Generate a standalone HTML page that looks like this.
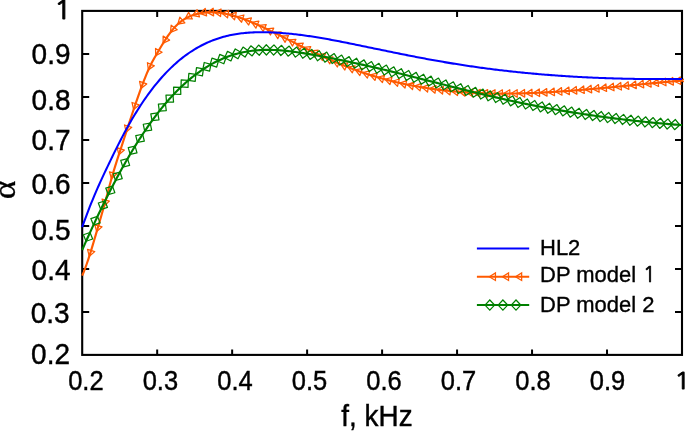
<!DOCTYPE html>
<html><head><meta charset="utf-8"><title>plot</title>
<style>html,body{margin:0;padding:0;background:#fff;overflow:hidden}body{width:685px;height:431px;position:relative}</style></head>
<body>
<svg width="685" height="431" viewBox="0 0 685 431" style="position:absolute;left:0;top:0">
<defs><clipPath id="cp"><rect x="0" y="0" width="683.9" height="431"/></clipPath></defs>
<rect width="685" height="431" fill="#fff"/>
<rect x="82.2" y="10.9" width="599.8" height="344.0" fill="none" stroke="#000" stroke-width="2.1"/>
<path d="M157.18,354.9 v-5.3 M157.18,10.9 v6.0 M82.2,311.90 h7 M682.0,311.90 h-7 M232.15,354.9 v-5.3 M232.15,10.9 v6.0 M82.2,268.90 h7 M682.0,268.90 h-7 M307.12,354.9 v-5.3 M307.12,10.9 v6.0 M82.2,225.90 h7 M682.0,225.90 h-7 M382.10,354.9 v-5.3 M382.10,10.9 v6.0 M82.2,182.90 h7 M682.0,182.90 h-7 M457.07,354.9 v-5.3 M457.07,10.9 v6.0 M82.2,139.90 h7 M682.0,139.90 h-7 M532.05,354.9 v-5.3 M532.05,10.9 v6.0 M82.2,96.90 h7 M682.0,96.90 h-7 M607.02,354.9 v-5.3 M607.02,10.9 v6.0 M82.2,53.90 h7 M682.0,53.90 h-7" stroke="#000" stroke-width="2" fill="none"/>
<g fill="none" stroke-linejoin="round" clip-path="url(#cp)">
<path d="M82.20,275.64 L83.70,272.08 L85.21,268.19 L86.71,264.01 L88.21,259.58 L89.72,254.93 L91.22,250.10 L92.72,245.13 L94.23,240.06 L95.73,234.92 L97.23,229.76 L98.74,224.60 L100.24,219.44 L101.74,214.24 L103.25,208.96 L104.75,203.59 L106.25,198.07 L107.76,192.45 L109.26,186.82 L110.76,181.27 L112.27,175.89 L113.77,170.75 L115.27,165.83 L116.77,161.08 L118.28,156.43 L119.78,151.85 L121.28,147.26 L122.79,142.64 L124.29,138.01 L125.79,133.37 L127.30,128.74 L128.80,124.12 L130.30,119.53 L131.81,114.98 L133.31,110.47 L134.81,106.02 L136.32,101.62 L137.82,97.30 L139.32,93.06 L140.83,88.91 L142.33,84.86 L143.83,80.91 L145.34,77.09 L146.84,73.43 L148.34,69.95 L149.85,66.68 L151.35,63.62 L152.85,60.76 L154.36,58.03 L155.86,55.41 L157.36,52.85 L158.87,50.31 L160.37,47.79 L161.87,45.30 L163.38,42.86 L164.88,40.48 L166.38,38.16 L167.89,35.93 L169.39,33.80 L170.89,31.78 L172.40,29.88 L173.90,28.11 L175.40,26.48 L176.91,24.97 L178.41,23.58 L179.91,22.31 L181.42,21.14 L182.92,20.08 L184.42,19.11 L185.92,18.23 L187.43,17.44 L188.93,16.73 L190.43,16.08 L191.94,15.51 L193.44,14.99 L194.94,14.53 L196.45,14.12 L197.95,13.75 L199.45,13.43 L200.96,13.15 L202.46,12.91 L203.96,12.71 L205.47,12.55 L206.97,12.43 L208.47,12.34 L209.98,12.30 L211.48,12.29 L212.98,12.31 L214.49,12.37 L215.99,12.46 L217.49,12.59 L219.00,12.75 L220.50,12.94 L222.00,13.15 L223.51,13.40 L225.01,13.68 L226.51,13.98 L228.02,14.31 L229.52,14.66 L231.02,15.04 L232.53,15.44 L234.03,15.87 L235.53,16.31 L237.04,16.78 L238.54,17.27 L240.04,17.78 L241.55,18.30 L243.05,18.84 L244.55,19.40 L246.06,19.98 L247.56,20.57 L249.06,21.17 L250.56,21.79 L252.07,22.41 L253.57,23.05 L255.07,23.70 L256.58,24.36 L258.08,25.03 L259.58,25.71 L261.09,26.39 L262.59,27.08 L264.09,27.78 L265.60,28.48 L267.10,29.20 L268.60,29.91 L270.11,30.64 L271.61,31.36 L273.11,32.10 L274.62,32.84 L276.12,33.58 L277.62,34.32 L279.13,35.07 L280.63,35.82 L282.13,36.58 L283.64,37.33 L285.14,38.09 L286.64,38.85 L288.15,39.61 L289.65,40.37 L291.15,41.13 L292.66,41.89 L294.16,42.65 L295.66,43.41 L297.17,44.17 L298.67,44.92 L300.17,45.67 L301.68,46.43 L303.18,47.17 L304.68,47.92 L306.19,48.66 L307.69,49.39 L309.19,50.13 L310.70,50.85 L312.20,51.58 L313.70,52.29 L315.21,53.00 L316.71,53.71 L318.21,54.41 L319.71,55.11 L321.22,55.80 L322.72,56.49 L324.22,57.16 L325.73,57.84 L327.23,58.51 L328.73,59.17 L330.24,59.83 L331.74,60.48 L333.24,61.12 L334.75,61.76 L336.25,62.40 L337.75,63.03 L339.26,63.65 L340.76,64.26 L342.26,64.87 L343.77,65.47 L345.27,66.07 L346.77,66.66 L348.28,67.24 L349.78,67.82 L351.28,68.39 L352.79,68.95 L354.29,69.51 L355.79,70.06 L357.30,70.60 L358.80,71.14 L360.30,71.67 L361.81,72.19 L363.31,72.71 L364.81,73.21 L366.32,73.72 L367.82,74.21 L369.32,74.69 L370.83,75.17 L372.33,75.64 L373.83,76.11 L375.34,76.56 L376.84,77.01 L378.34,77.45 L379.85,77.89 L381.35,78.32 L382.85,78.74 L384.35,79.15 L385.86,79.56 L387.36,79.95 L388.86,80.35 L390.37,80.73 L391.87,81.11 L393.37,81.48 L394.88,81.85 L396.38,82.21 L397.88,82.56 L399.39,82.90 L400.89,83.24 L402.39,83.57 L403.90,83.90 L405.40,84.22 L406.90,84.53 L408.41,84.84 L409.91,85.14 L411.41,85.43 L412.92,85.72 L414.42,86.00 L415.92,86.28 L417.43,86.55 L418.93,86.81 L420.43,87.07 L421.94,87.32 L423.44,87.57 L424.94,87.81 L426.45,88.05 L427.95,88.28 L429.45,88.50 L430.96,88.72 L432.46,88.93 L433.96,89.14 L435.47,89.34 L436.97,89.54 L438.47,89.73 L439.98,89.92 L441.48,90.10 L442.98,90.27 L444.49,90.45 L445.99,90.61 L447.49,90.77 L448.99,90.93 L450.50,91.08 L452.00,91.23 L453.50,91.37 L455.01,91.50 L456.51,91.64 L458.01,91.76 L459.52,91.88 L461.02,92.00 L462.52,92.12 L464.03,92.22 L465.53,92.33 L467.03,92.43 L468.54,92.52 L470.04,92.61 L471.54,92.70 L473.05,92.78 L474.55,92.86 L476.05,92.93 L477.56,93.00 L479.06,93.07 L480.56,93.13 L482.07,93.18 L483.57,93.24 L485.07,93.28 L486.58,93.33 L488.08,93.37 L489.58,93.41 L491.09,93.44 L492.59,93.47 L494.09,93.49 L495.60,93.52 L497.10,93.53 L498.60,93.55 L500.11,93.56 L501.61,93.57 L503.11,93.57 L504.62,93.57 L506.12,93.57 L507.62,93.56 L509.13,93.55 L510.63,93.54 L512.13,93.52 L513.64,93.50 L515.14,93.48 L516.64,93.45 L518.14,93.42 L519.65,93.39 L521.15,93.36 L522.65,93.32 L524.16,93.28 L525.66,93.23 L527.16,93.18 L528.67,93.13 L530.17,93.08 L531.67,93.03 L533.18,92.97 L534.68,92.91 L536.18,92.84 L537.69,92.78 L539.19,92.71 L540.69,92.64 L542.20,92.57 L543.70,92.49 L545.20,92.41 L546.71,92.33 L548.21,92.25 L549.71,92.16 L551.22,92.07 L552.72,91.99 L554.22,91.89 L555.73,91.80 L557.23,91.70 L558.73,91.61 L560.24,91.51 L561.74,91.40 L563.24,91.30 L564.75,91.19 L566.25,91.09 L567.75,90.98 L569.26,90.87 L570.76,90.75 L572.26,90.64 L573.77,90.52 L575.27,90.41 L576.77,90.29 L578.28,90.17 L579.78,90.04 L581.28,89.92 L582.78,89.80 L584.29,89.67 L585.79,89.54 L587.29,89.41 L588.80,89.28 L590.30,89.15 L591.80,89.02 L593.31,88.89 L594.81,88.75 L596.31,88.62 L597.82,88.48 L599.32,88.35 L600.82,88.21 L602.33,88.07 L603.83,87.93 L605.33,87.79 L606.84,87.65 L608.34,87.50 L609.84,87.36 L611.35,87.22 L612.85,87.08 L614.35,86.93 L615.86,86.79 L617.36,86.64 L618.86,86.50 L620.37,86.35 L621.87,86.20 L623.37,86.06 L624.88,85.91 L626.38,85.76 L627.88,85.62 L629.39,85.47 L630.89,85.32 L632.39,85.18 L633.90,85.03 L635.40,84.88 L636.90,84.73 L638.41,84.59 L639.91,84.44 L641.41,84.29 L642.92,84.15 L644.42,84.00 L645.92,83.85 L647.43,83.71 L648.93,83.56 L650.43,83.42 L651.93,83.28 L653.44,83.13 L654.94,82.99 L656.44,82.85 L657.95,82.71 L659.45,82.56 L660.95,82.42 L662.46,82.28 L663.96,82.15 L665.46,82.01 L666.97,81.87 L668.47,81.74 L669.97,81.60 L671.48,81.47 L672.98,81.33 L674.48,81.20 L675.99,81.07 L677.49,80.94 L678.99,80.81 L680.50,80.69 L682.00,80.56" stroke="#ff5a00" stroke-width="2.15"/>
<path d="M-0.5,0 L5.65,-3.8 L5.65,3.8 Z" transform="translate(89.43,255.83) rotate(-72.3)" fill="none" stroke="#ff5a00" stroke-width="1.25"/>
<path d="M-0.5,0 L5.65,-3.8 L5.65,3.8 Z" transform="translate(96.82,231.17) rotate(-73.8)" fill="none" stroke="#ff5a00" stroke-width="1.25"/>
<path d="M-0.5,0 L5.65,-3.8 L5.65,3.8 Z" transform="translate(104.21,205.52) rotate(-74.4)" fill="none" stroke="#ff5a00" stroke-width="1.25"/>
<path d="M-0.5,0 L5.65,-3.8 L5.65,3.8 Z" transform="translate(111.61,178.22) rotate(-74.4)" fill="none" stroke="#ff5a00" stroke-width="1.25"/>
<path d="M-0.5,0 L5.65,-3.8 L5.65,3.8 Z" transform="translate(119.00,154.23) rotate(-71.9)" fill="none" stroke="#ff5a00" stroke-width="1.25"/>
<path d="M-0.5,0 L5.65,-3.8 L5.65,3.8 Z" transform="translate(126.39,131.52) rotate(-72.0)" fill="none" stroke="#ff5a00" stroke-width="1.25"/>
<path d="M-0.5,0 L5.65,-3.8 L5.65,3.8 Z" transform="translate(133.79,109.05) rotate(-71.4)" fill="none" stroke="#ff5a00" stroke-width="1.25"/>
<path d="M-0.5,0 L5.65,-3.8 L5.65,3.8 Z" transform="translate(141.18,87.94) rotate(-69.8)" fill="none" stroke="#ff5a00" stroke-width="1.25"/>
<path d="M-0.5,0 L5.65,-3.8 L5.65,3.8 Z" transform="translate(148.58,69.42) rotate(-65.8)" fill="none" stroke="#ff5a00" stroke-width="1.25"/>
<path d="M-0.5,0 L5.65,-3.8 L5.65,3.8 Z" transform="translate(155.98,55.21) rotate(-59.8)" fill="none" stroke="#ff5a00" stroke-width="1.25"/>
<path d="M-0.5,0 L5.65,-3.8 L5.65,3.8 Z" transform="translate(163.37,42.87) rotate(-58.1)" fill="none" stroke="#ff5a00" stroke-width="1.25"/>
<path d="M-0.5,0 L5.65,-3.8 L5.65,3.8 Z" transform="translate(170.77,31.94) rotate(-52.7)" fill="none" stroke="#ff5a00" stroke-width="1.25"/>
<path d="M-0.5,0 L5.65,-3.8 L5.65,3.8 Z" transform="translate(178.17,23.80) rotate(-41.9)" fill="none" stroke="#ff5a00" stroke-width="1.25"/>
<path d="M-0.5,0 L5.65,-3.8 L5.65,3.8 Z" transform="translate(185.57,18.43) rotate(-29.6)" fill="none" stroke="#ff5a00" stroke-width="1.25"/>
<path d="M-0.5,0 L5.65,-3.8 L5.65,3.8 Z" transform="translate(192.96,15.15) rotate(-18.5)" fill="none" stroke="#ff5a00" stroke-width="1.25"/>
<path d="M-0.5,0 L5.65,-3.8 L5.65,3.8 Z" transform="translate(200.36,13.25) rotate(-10.5)" fill="none" stroke="#ff5a00" stroke-width="1.25"/>
<path d="M-0.5,0 L5.65,-3.8 L5.65,3.8 Z" transform="translate(207.76,12.38) rotate(-3.1)" fill="none" stroke="#ff5a00" stroke-width="1.25"/>
<path d="M-0.5,0 L5.65,-3.8 L5.65,3.8 Z" transform="translate(215.16,12.41) rotate(3.5)" fill="none" stroke="#ff5a00" stroke-width="1.25"/>
<path d="M-0.5,0 L5.65,-3.8 L5.65,3.8 Z" transform="translate(222.56,13.24) rotate(9.2)" fill="none" stroke="#ff5a00" stroke-width="1.25"/>
<path d="M-0.5,0 L5.65,-3.8 L5.65,3.8 Z" transform="translate(229.96,14.77) rotate(14.0)" fill="none" stroke="#ff5a00" stroke-width="1.25"/>
<path d="M-0.5,0 L5.65,-3.8 L5.65,3.8 Z" transform="translate(237.37,16.89) rotate(17.8)" fill="none" stroke="#ff5a00" stroke-width="1.25"/>
<path d="M-0.5,0 L5.65,-3.8 L5.65,3.8 Z" transform="translate(244.77,19.48) rotate(20.7)" fill="none" stroke="#ff5a00" stroke-width="1.25"/>
<path d="M-0.5,0 L5.65,-3.8 L5.65,3.8 Z" transform="translate(252.17,22.46) rotate(22.9)" fill="none" stroke="#ff5a00" stroke-width="1.25"/>
<path d="M-0.5,0 L5.65,-3.8 L5.65,3.8 Z" transform="translate(259.57,25.70) rotate(24.3)" fill="none" stroke="#ff5a00" stroke-width="1.25"/>
<path d="M-0.5,0 L5.65,-3.8 L5.65,3.8 Z" transform="translate(266.98,29.14) rotate(25.4)" fill="none" stroke="#ff5a00" stroke-width="1.25"/>
<path d="M-0.5,0 L5.65,-3.8 L5.65,3.8 Z" transform="translate(274.38,32.72) rotate(26.2)" fill="none" stroke="#ff5a00" stroke-width="1.25"/>
<path d="M-0.5,0 L5.65,-3.8 L5.65,3.8 Z" transform="translate(281.78,36.40) rotate(26.7)" fill="none" stroke="#ff5a00" stroke-width="1.25"/>
<path d="M-0.5,0 L5.65,-3.8 L5.65,3.8 Z" transform="translate(289.19,40.14) rotate(26.8)" fill="none" stroke="#ff5a00" stroke-width="1.25"/>
<path d="M-0.5,0 L5.65,-3.8 L5.65,3.8 Z" transform="translate(296.59,43.88) rotate(26.7)" fill="none" stroke="#ff5a00" stroke-width="1.25"/>
<path d="M-0.5,0 L5.65,-3.8 L5.65,3.8 Z" transform="translate(304.00,47.58) rotate(26.3)" fill="none" stroke="#ff5a00" stroke-width="1.25"/>
<path d="M-0.5,0 L5.65,-3.8 L5.65,3.8 Z" transform="translate(311.41,51.20) rotate(25.7)" fill="none" stroke="#ff5a00" stroke-width="1.25"/>
<path d="M-0.5,0 L5.65,-3.8 L5.65,3.8 Z" transform="translate(318.81,54.69) rotate(24.9)" fill="none" stroke="#ff5a00" stroke-width="1.25"/>
<path d="M-0.5,0 L5.65,-3.8 L5.65,3.8 Z" transform="translate(326.22,58.06) rotate(24.0)" fill="none" stroke="#ff5a00" stroke-width="1.25"/>
<path d="M-0.5,0 L5.65,-3.8 L5.65,3.8 Z" transform="translate(333.63,61.29) rotate(23.1)" fill="none" stroke="#ff5a00" stroke-width="1.25"/>
<path d="M-0.5,0 L5.65,-3.8 L5.65,3.8 Z" transform="translate(341.04,64.37) rotate(22.1)" fill="none" stroke="#ff5a00" stroke-width="1.25"/>
<path d="M-0.5,0 L5.65,-3.8 L5.65,3.8 Z" transform="translate(348.44,67.31) rotate(21.1)" fill="none" stroke="#ff5a00" stroke-width="1.25"/>
<path d="M-0.5,0 L5.65,-3.8 L5.65,3.8 Z" transform="translate(355.85,70.08) rotate(20.0)" fill="none" stroke="#ff5a00" stroke-width="1.25"/>
<path d="M-0.5,0 L5.65,-3.8 L5.65,3.8 Z" transform="translate(363.26,72.69) rotate(18.8)" fill="none" stroke="#ff5a00" stroke-width="1.25"/>
<path d="M-0.5,0 L5.65,-3.8 L5.65,3.8 Z" transform="translate(370.67,75.13) rotate(17.6)" fill="none" stroke="#ff5a00" stroke-width="1.25"/>
<path d="M-0.5,0 L5.65,-3.8 L5.65,3.8 Z" transform="translate(378.08,77.38) rotate(16.3)" fill="none" stroke="#ff5a00" stroke-width="1.25"/>
<path d="M-0.5,0 L5.65,-3.8 L5.65,3.8 Z" transform="translate(385.49,79.46) rotate(15.1)" fill="none" stroke="#ff5a00" stroke-width="1.25"/>
<path d="M-0.5,0 L5.65,-3.8 L5.65,3.8 Z" transform="translate(392.91,81.37) rotate(13.8)" fill="none" stroke="#ff5a00" stroke-width="1.25"/>
<path d="M-0.5,0 L5.65,-3.8 L5.65,3.8 Z" transform="translate(400.32,83.11) rotate(12.7)" fill="none" stroke="#ff5a00" stroke-width="1.25"/>
<path d="M-0.5,0 L5.65,-3.8 L5.65,3.8 Z" transform="translate(407.73,84.70) rotate(11.5)" fill="none" stroke="#ff5a00" stroke-width="1.25"/>
<path d="M-0.5,0 L5.65,-3.8 L5.65,3.8 Z" transform="translate(415.14,86.14) rotate(10.4)" fill="none" stroke="#ff5a00" stroke-width="1.25"/>
<path d="M-0.5,0 L5.65,-3.8 L5.65,3.8 Z" transform="translate(422.56,87.43) rotate(9.3)" fill="none" stroke="#ff5a00" stroke-width="1.25"/>
<path d="M-0.5,0 L5.65,-3.8 L5.65,3.8 Z" transform="translate(429.97,88.58) rotate(8.3)" fill="none" stroke="#ff5a00" stroke-width="1.25"/>
<path d="M-0.5,0 L5.65,-3.8 L5.65,3.8 Z" transform="translate(437.39,89.59) rotate(7.3)" fill="none" stroke="#ff5a00" stroke-width="1.25"/>
<path d="M-0.5,0 L5.65,-3.8 L5.65,3.8 Z" transform="translate(444.80,90.48) rotate(6.4)" fill="none" stroke="#ff5a00" stroke-width="1.25"/>
<path d="M-0.5,0 L5.65,-3.8 L5.65,3.8 Z" transform="translate(452.22,91.25) rotate(5.4)" fill="none" stroke="#ff5a00" stroke-width="1.25"/>
<path d="M-0.5,0 L5.65,-3.8 L5.65,3.8 Z" transform="translate(459.63,91.89) rotate(4.5)" fill="none" stroke="#ff5a00" stroke-width="1.25"/>
<path d="M-0.5,0 L5.65,-3.8 L5.65,3.8 Z" transform="translate(467.05,92.43) rotate(3.7)" fill="none" stroke="#ff5a00" stroke-width="1.25"/>
<path d="M-0.5,0 L5.65,-3.8 L5.65,3.8 Z" transform="translate(474.46,92.85) rotate(2.9)" fill="none" stroke="#ff5a00" stroke-width="1.25"/>
<path d="M-0.5,0 L5.65,-3.8 L5.65,3.8 Z" transform="translate(481.88,93.18) rotate(2.1)" fill="none" stroke="#ff5a00" stroke-width="1.25"/>
<path d="M-0.5,0 L5.65,-3.8 L5.65,3.8 Z" transform="translate(489.30,93.40) rotate(1.4)" fill="none" stroke="#ff5a00" stroke-width="1.25"/>
<path d="M-0.5,0 L5.65,-3.8 L5.65,3.8 Z" transform="translate(496.72,93.53) rotate(0.7)" fill="none" stroke="#ff5a00" stroke-width="1.25"/>
<path d="M-0.5,0 L5.65,-3.8 L5.65,3.8 Z" transform="translate(504.14,93.57) rotate(-0.0)" fill="none" stroke="#ff5a00" stroke-width="1.25"/>
<path d="M-0.5,0 L5.65,-3.8 L5.65,3.8 Z" transform="translate(511.56,93.53) rotate(-0.6)" fill="none" stroke="#ff5a00" stroke-width="1.25"/>
<path d="M-0.5,0 L5.65,-3.8 L5.65,3.8 Z" transform="translate(518.98,93.41) rotate(-1.2)" fill="none" stroke="#ff5a00" stroke-width="1.25"/>
<path d="M-0.5,0 L5.65,-3.8 L5.65,3.8 Z" transform="translate(526.40,93.21) rotate(-1.8)" fill="none" stroke="#ff5a00" stroke-width="1.25"/>
<path d="M-0.5,0 L5.65,-3.8 L5.65,3.8 Z" transform="translate(533.82,92.94) rotate(-2.3)" fill="none" stroke="#ff5a00" stroke-width="1.25"/>
<path d="M-0.5,0 L5.65,-3.8 L5.65,3.8 Z" transform="translate(541.24,92.61) rotate(-2.8)" fill="none" stroke="#ff5a00" stroke-width="1.25"/>
<path d="M-0.5,0 L5.65,-3.8 L5.65,3.8 Z" transform="translate(548.66,92.22) rotate(-3.2)" fill="none" stroke="#ff5a00" stroke-width="1.25"/>
<path d="M-0.5,0 L5.65,-3.8 L5.65,3.8 Z" transform="translate(556.08,91.78) rotate(-3.6)" fill="none" stroke="#ff5a00" stroke-width="1.25"/>
<path d="M-0.5,0 L5.65,-3.8 L5.65,3.8 Z" transform="translate(563.50,91.28) rotate(-4.0)" fill="none" stroke="#ff5a00" stroke-width="1.25"/>
<path d="M-0.5,0 L5.65,-3.8 L5.65,3.8 Z" transform="translate(570.93,90.74) rotate(-4.3)" fill="none" stroke="#ff5a00" stroke-width="1.25"/>
<path d="M-0.5,0 L5.65,-3.8 L5.65,3.8 Z" transform="translate(578.35,90.16) rotate(-4.6)" fill="none" stroke="#ff5a00" stroke-width="1.25"/>
<path d="M-0.5,0 L5.65,-3.8 L5.65,3.8 Z" transform="translate(585.77,89.54) rotate(-4.9)" fill="none" stroke="#ff5a00" stroke-width="1.25"/>
<path d="M-0.5,0 L5.65,-3.8 L5.65,3.8 Z" transform="translate(593.20,88.90) rotate(-5.1)" fill="none" stroke="#ff5a00" stroke-width="1.25"/>
<path d="M-0.5,0 L5.65,-3.8 L5.65,3.8 Z" transform="translate(600.62,88.23) rotate(-5.3)" fill="none" stroke="#ff5a00" stroke-width="1.25"/>
<path d="M-0.5,0 L5.65,-3.8 L5.65,3.8 Z" transform="translate(608.05,87.53) rotate(-5.4)" fill="none" stroke="#ff5a00" stroke-width="1.25"/>
<path d="M-0.5,0 L5.65,-3.8 L5.65,3.8 Z" transform="translate(615.48,86.82) rotate(-5.5)" fill="none" stroke="#ff5a00" stroke-width="1.25"/>
<path d="M-0.5,0 L5.65,-3.8 L5.65,3.8 Z" transform="translate(622.90,86.10) rotate(-5.6)" fill="none" stroke="#ff5a00" stroke-width="1.25"/>
<path d="M-0.5,0 L5.65,-3.8 L5.65,3.8 Z" transform="translate(630.33,85.38) rotate(-5.6)" fill="none" stroke="#ff5a00" stroke-width="1.25"/>
<path d="M-0.5,0 L5.65,-3.8 L5.65,3.8 Z" transform="translate(637.76,84.65) rotate(-5.6)" fill="none" stroke="#ff5a00" stroke-width="1.25"/>
<path d="M-0.5,0 L5.65,-3.8 L5.65,3.8 Z" transform="translate(645.18,83.93) rotate(-5.5)" fill="none" stroke="#ff5a00" stroke-width="1.25"/>
<path d="M-0.5,0 L5.65,-3.8 L5.65,3.8 Z" transform="translate(652.61,83.21) rotate(-5.5)" fill="none" stroke="#ff5a00" stroke-width="1.25"/>
<path d="M-0.5,0 L5.65,-3.8 L5.65,3.8 Z" transform="translate(660.04,82.51) rotate(-5.3)" fill="none" stroke="#ff5a00" stroke-width="1.25"/>
<path d="M-0.5,0 L5.65,-3.8 L5.65,3.8 Z" transform="translate(667.47,81.83) rotate(-5.2)" fill="none" stroke="#ff5a00" stroke-width="1.25"/>
<path d="M-0.5,0 L5.65,-3.8 L5.65,3.8 Z" transform="translate(674.90,81.17) rotate(-5.0)" fill="none" stroke="#ff5a00" stroke-width="1.25"/>
<path d="M-0.5,0 L5.65,-3.8 L5.65,3.8 Z" transform="translate(682.33,80.53) rotate(-4.7)" fill="none" stroke="#ff5a00" stroke-width="1.25"/>
<path d="M82.20,227.12 L83.70,222.92 L85.21,218.80 L86.71,214.78 L88.21,210.85 L89.72,206.99 L91.22,203.23 L92.72,199.54 L94.23,195.92 L95.73,192.38 L97.23,188.91 L98.74,185.51 L100.24,182.17 L101.74,178.88 L103.25,175.64 L104.75,172.43 L106.25,169.25 L107.76,166.09 L109.26,162.95 L110.76,159.83 L112.27,156.73 L113.77,153.66 L115.27,150.61 L116.77,147.60 L118.28,144.62 L119.78,141.67 L121.28,138.76 L122.79,135.89 L124.29,133.06 L125.79,130.28 L127.30,127.54 L128.80,124.84 L130.30,122.20 L131.81,119.60 L133.31,117.06 L134.81,114.56 L136.32,112.10 L137.82,109.70 L139.32,107.34 L140.83,105.02 L142.33,102.76 L143.83,100.54 L145.34,98.36 L146.84,96.23 L148.34,94.14 L149.85,92.10 L151.35,90.10 L152.85,88.14 L154.36,86.23 L155.86,84.36 L157.36,82.53 L158.87,80.74 L160.37,79.00 L161.87,77.29 L163.38,75.63 L164.88,74.00 L166.38,72.41 L167.89,70.87 L169.39,69.36 L170.89,67.89 L172.40,66.45 L173.90,65.05 L175.40,63.69 L176.91,62.37 L178.41,61.08 L179.91,59.83 L181.42,58.61 L182.92,57.43 L184.42,56.28 L185.92,55.16 L187.43,54.08 L188.93,53.03 L190.43,52.01 L191.94,51.02 L193.44,50.07 L194.94,49.14 L196.45,48.25 L197.95,47.38 L199.45,46.55 L200.96,45.74 L202.46,44.97 L203.96,44.22 L205.47,43.50 L206.97,42.80 L208.47,42.13 L209.98,41.49 L211.48,40.88 L212.98,40.29 L214.49,39.72 L215.99,39.18 L217.49,38.67 L219.00,38.18 L220.50,37.71 L222.00,37.26 L223.51,36.84 L225.01,36.44 L226.51,36.06 L228.02,35.70 L229.52,35.36 L231.02,35.04 L232.53,34.74 L234.03,34.46 L235.53,34.20 L237.04,33.96 L238.54,33.73 L240.04,33.53 L241.55,33.34 L243.05,33.16 L244.55,33.01 L246.06,32.86 L247.56,32.74 L249.06,32.63 L250.56,32.53 L252.07,32.45 L253.57,32.38 L255.07,32.32 L256.58,32.28 L258.08,32.24 L259.58,32.22 L261.09,32.21 L262.59,32.22 L264.09,32.23 L265.60,32.25 L267.10,32.28 L268.60,32.32 L270.11,32.37 L271.61,32.43 L273.11,32.49 L274.62,32.56 L276.12,32.64 L277.62,32.73 L279.13,32.83 L280.63,32.93 L282.13,33.04 L283.64,33.16 L285.14,33.28 L286.64,33.42 L288.15,33.55 L289.65,33.70 L291.15,33.85 L292.66,34.01 L294.16,34.17 L295.66,34.34 L297.17,34.52 L298.67,34.70 L300.17,34.89 L301.68,35.08 L303.18,35.28 L304.68,35.48 L306.19,35.69 L307.69,35.90 L309.19,36.12 L310.70,36.35 L312.20,36.57 L313.70,36.81 L315.21,37.04 L316.71,37.28 L318.21,37.53 L319.71,37.78 L321.22,38.03 L322.72,38.29 L324.22,38.55 L325.73,38.82 L327.23,39.08 L328.73,39.36 L330.24,39.63 L331.74,39.91 L333.24,40.19 L334.75,40.47 L336.25,40.76 L337.75,41.04 L339.26,41.34 L340.76,41.63 L342.26,41.92 L343.77,42.22 L345.27,42.52 L346.77,42.82 L348.28,43.12 L349.78,43.42 L351.28,43.73 L352.79,44.03 L354.29,44.34 L355.79,44.65 L357.30,44.96 L358.80,45.27 L360.30,45.58 L361.81,45.89 L363.31,46.20 L364.81,46.51 L366.32,46.82 L367.82,47.13 L369.32,47.45 L370.83,47.76 L372.33,48.07 L373.83,48.38 L375.34,48.69 L376.84,49.00 L378.34,49.31 L379.85,49.62 L381.35,49.93 L382.85,50.24 L384.35,50.55 L385.86,50.86 L387.36,51.17 L388.86,51.48 L390.37,51.79 L391.87,52.10 L393.37,52.40 L394.88,52.71 L396.38,53.01 L397.88,53.32 L399.39,53.62 L400.89,53.92 L402.39,54.22 L403.90,54.53 L405.40,54.82 L406.90,55.12 L408.41,55.42 L409.91,55.72 L411.41,56.01 L412.92,56.31 L414.42,56.60 L415.92,56.89 L417.43,57.18 L418.93,57.47 L420.43,57.76 L421.94,58.04 L423.44,58.33 L424.94,58.61 L426.45,58.89 L427.95,59.17 L429.45,59.45 L430.96,59.72 L432.46,60.00 L433.96,60.27 L435.47,60.54 L436.97,60.81 L438.47,61.07 L439.98,61.34 L441.48,61.60 L442.98,61.86 L444.49,62.12 L445.99,62.37 L447.49,62.62 L448.99,62.88 L450.50,63.12 L452.00,63.37 L453.50,63.62 L455.01,63.86 L456.51,64.10 L458.01,64.34 L459.52,64.57 L461.02,64.81 L462.52,65.04 L464.03,65.27 L465.53,65.49 L467.03,65.72 L468.54,65.94 L470.04,66.16 L471.54,66.38 L473.05,66.60 L474.55,66.81 L476.05,67.03 L477.56,67.24 L479.06,67.45 L480.56,67.65 L482.07,67.86 L483.57,68.06 L485.07,68.26 L486.58,68.46 L488.08,68.65 L489.58,68.85 L491.09,69.04 L492.59,69.23 L494.09,69.42 L495.60,69.61 L497.10,69.79 L498.60,69.97 L500.11,70.15 L501.61,70.33 L503.11,70.51 L504.62,70.68 L506.12,70.85 L507.62,71.02 L509.13,71.19 L510.63,71.36 L512.13,71.52 L513.64,71.68 L515.14,71.84 L516.64,72.00 L518.14,72.16 L519.65,72.31 L521.15,72.47 L522.65,72.62 L524.16,72.77 L525.66,72.91 L527.16,73.06 L528.67,73.20 L530.17,73.34 L531.67,73.48 L533.18,73.62 L534.68,73.76 L536.18,73.89 L537.69,74.02 L539.19,74.15 L540.69,74.28 L542.20,74.41 L543.70,74.53 L545.20,74.65 L546.71,74.78 L548.21,74.89 L549.71,75.01 L551.22,75.13 L552.72,75.24 L554.22,75.35 L555.73,75.46 L557.23,75.57 L558.73,75.68 L560.24,75.78 L561.74,75.89 L563.24,75.99 L564.75,76.09 L566.25,76.19 L567.75,76.28 L569.26,76.38 L570.76,76.47 L572.26,76.56 L573.77,76.65 L575.27,76.74 L576.77,76.82 L578.28,76.91 L579.78,76.99 L581.28,77.07 L582.78,77.15 L584.29,77.23 L585.79,77.30 L587.29,77.38 L588.80,77.45 L590.30,77.52 L591.80,77.59 L593.31,77.66 L594.81,77.72 L596.31,77.79 L597.82,77.85 L599.32,77.91 L600.82,77.97 L602.33,78.03 L603.83,78.08 L605.33,78.14 L606.84,78.19 L608.34,78.24 L609.84,78.29 L611.35,78.34 L612.85,78.39 L614.35,78.43 L615.86,78.47 L617.36,78.52 L618.86,78.56 L620.37,78.59 L621.87,78.63 L623.37,78.67 L624.88,78.70 L626.38,78.73 L627.88,78.77 L629.39,78.80 L630.89,78.82 L632.39,78.85 L633.90,78.88 L635.40,78.90 L636.90,78.92 L638.41,78.94 L639.91,78.96 L641.41,78.98 L642.92,79.00 L644.42,79.01 L645.92,79.02 L647.43,79.04 L648.93,79.05 L650.43,79.06 L651.93,79.06 L653.44,79.07 L654.94,79.07 L656.44,79.08 L657.95,79.08 L659.45,79.08 L660.95,79.08 L662.46,79.08 L663.96,79.07 L665.46,79.07 L666.97,79.06 L668.47,79.06 L669.97,79.05 L671.48,79.04 L672.98,79.03 L674.48,79.01 L675.99,79.00 L677.49,78.98 L678.99,78.97 L680.50,78.95 L682.00,78.93" stroke="#0000ff" stroke-width="2.05"/>
<path d="M82.20,250.00 L83.70,246.58 L85.21,243.18 L86.71,239.81 L88.21,236.47 L89.72,233.15 L91.22,229.86 L92.72,226.59 L94.23,223.36 L95.73,220.14 L97.23,216.96 L98.74,213.80 L100.24,210.67 L101.74,207.57 L103.25,204.49 L104.75,201.45 L106.25,198.43 L107.76,195.43 L109.26,192.47 L110.76,189.54 L112.27,186.63 L113.77,183.75 L115.27,180.91 L116.77,178.09 L118.28,175.30 L119.78,172.54 L121.28,169.81 L122.79,167.10 L124.29,164.43 L125.79,161.79 L127.30,159.18 L128.80,156.60 L130.30,154.05 L131.81,151.53 L133.31,149.05 L134.81,146.59 L136.32,144.16 L137.82,141.77 L139.32,139.41 L140.83,137.08 L142.33,134.78 L143.83,132.51 L145.34,130.28 L146.84,128.08 L148.34,125.91 L149.85,123.77 L151.35,121.67 L152.85,119.60 L154.36,117.56 L155.86,115.55 L157.36,113.58 L158.87,111.65 L160.37,109.75 L161.87,107.88 L163.38,106.04 L164.88,104.24 L166.38,102.48 L167.89,100.74 L169.39,99.04 L170.89,97.38 L172.40,95.75 L173.90,94.15 L175.40,92.58 L176.91,91.04 L178.41,89.54 L179.91,88.07 L181.42,86.63 L182.92,85.22 L184.42,83.85 L185.92,82.50 L187.43,81.19 L188.93,79.91 L190.43,78.65 L191.94,77.43 L193.44,76.24 L194.94,75.07 L196.45,73.94 L197.95,72.84 L199.45,71.76 L200.96,70.72 L202.46,69.70 L203.96,68.71 L205.47,67.75 L206.97,66.82 L208.47,65.91 L209.98,65.03 L211.48,64.18 L212.98,63.36 L214.49,62.57 L215.99,61.80 L217.49,61.05 L219.00,60.34 L220.50,59.65 L222.00,58.98 L223.51,58.35 L225.01,57.73 L226.51,57.14 L228.02,56.58 L229.52,56.04 L231.02,55.53 L232.53,55.04 L234.03,54.57 L235.53,54.13 L237.04,53.72 L238.54,53.32 L240.04,52.95 L241.55,52.60 L243.05,52.28 L244.55,51.98 L246.06,51.70 L247.56,51.44 L249.06,51.20 L250.56,50.98 L252.07,50.79 L253.57,50.61 L255.07,50.46 L256.58,50.32 L258.08,50.20 L259.58,50.10 L261.09,50.02 L262.59,49.95 L264.09,49.91 L265.60,49.87 L267.10,49.86 L268.60,49.86 L270.11,49.88 L271.61,49.91 L273.11,49.95 L274.62,50.01 L276.12,50.08 L277.62,50.16 L279.13,50.26 L280.63,50.37 L282.13,50.49 L283.64,50.62 L285.14,50.76 L286.64,50.92 L288.15,51.08 L289.65,51.25 L291.15,51.43 L292.66,51.62 L294.16,51.82 L295.66,52.02 L297.17,52.24 L298.67,52.45 L300.17,52.68 L301.68,52.91 L303.18,53.15 L304.68,53.39 L306.19,53.63 L307.69,53.88 L309.19,54.14 L310.70,54.39 L312.20,54.65 L313.70,54.92 L315.21,55.18 L316.71,55.45 L318.21,55.72 L319.71,55.99 L321.22,56.27 L322.72,56.54 L324.22,56.83 L325.73,57.11 L327.23,57.39 L328.73,57.68 L330.24,57.97 L331.74,58.27 L333.24,58.56 L334.75,58.86 L336.25,59.16 L337.75,59.46 L339.26,59.77 L340.76,60.07 L342.26,60.38 L343.77,60.69 L345.27,61.01 L346.77,61.32 L348.28,61.64 L349.78,61.96 L351.28,62.28 L352.79,62.60 L354.29,62.93 L355.79,63.26 L357.30,63.59 L358.80,63.92 L360.30,64.25 L361.81,64.59 L363.31,64.92 L364.81,65.26 L366.32,65.60 L367.82,65.94 L369.32,66.29 L370.83,66.63 L372.33,66.98 L373.83,67.32 L375.34,67.67 L376.84,68.03 L378.34,68.38 L379.85,68.73 L381.35,69.09 L382.85,69.44 L384.35,69.80 L385.86,70.16 L387.36,70.52 L388.86,70.88 L390.37,71.25 L391.87,71.61 L393.37,71.98 L394.88,72.34 L396.38,72.71 L397.88,73.08 L399.39,73.45 L400.89,73.82 L402.39,74.19 L403.90,74.57 L405.40,74.94 L406.90,75.31 L408.41,75.69 L409.91,76.06 L411.41,76.44 L412.92,76.82 L414.42,77.20 L415.92,77.57 L417.43,77.95 L418.93,78.33 L420.43,78.71 L421.94,79.09 L423.44,79.47 L424.94,79.86 L426.45,80.24 L427.95,80.62 L429.45,81.00 L430.96,81.38 L432.46,81.76 L433.96,82.15 L435.47,82.53 L436.97,82.91 L438.47,83.29 L439.98,83.68 L441.48,84.06 L442.98,84.44 L444.49,84.82 L445.99,85.20 L447.49,85.58 L448.99,85.96 L450.50,86.34 L452.00,86.72 L453.50,87.10 L455.01,87.48 L456.51,87.86 L458.01,88.23 L459.52,88.61 L461.02,88.99 L462.52,89.36 L464.03,89.74 L465.53,90.11 L467.03,90.48 L468.54,90.85 L470.04,91.22 L471.54,91.59 L473.05,91.96 L474.55,92.33 L476.05,92.69 L477.56,93.06 L479.06,93.42 L480.56,93.79 L482.07,94.15 L483.57,94.51 L485.07,94.86 L486.58,95.22 L488.08,95.58 L489.58,95.93 L491.09,96.28 L492.59,96.63 L494.09,96.98 L495.60,97.33 L497.10,97.67 L498.60,98.02 L500.11,98.36 L501.61,98.70 L503.11,99.04 L504.62,99.37 L506.12,99.71 L507.62,100.04 L509.13,100.37 L510.63,100.70 L512.13,101.02 L513.64,101.35 L515.14,101.67 L516.64,101.99 L518.14,102.30 L519.65,102.62 L521.15,102.93 L522.65,103.24 L524.16,103.55 L525.66,103.86 L527.16,104.16 L528.67,104.46 L530.17,104.76 L531.67,105.06 L533.18,105.36 L534.68,105.65 L536.18,105.94 L537.69,106.23 L539.19,106.52 L540.69,106.80 L542.20,107.09 L543.70,107.37 L545.20,107.65 L546.71,107.92 L548.21,108.20 L549.71,108.47 L551.22,108.74 L552.72,109.01 L554.22,109.28 L555.73,109.54 L557.23,109.81 L558.73,110.07 L560.24,110.33 L561.74,110.59 L563.24,110.84 L564.75,111.09 L566.25,111.34 L567.75,111.59 L569.26,111.84 L570.76,112.09 L572.26,112.33 L573.77,112.57 L575.27,112.81 L576.77,113.05 L578.28,113.28 L579.78,113.52 L581.28,113.75 L582.78,113.98 L584.29,114.21 L585.79,114.43 L587.29,114.66 L588.80,114.88 L590.30,115.10 L591.80,115.32 L593.31,115.53 L594.81,115.75 L596.31,115.96 L597.82,116.17 L599.32,116.38 L600.82,116.59 L602.33,116.79 L603.83,116.99 L605.33,117.20 L606.84,117.40 L608.34,117.59 L609.84,117.79 L611.35,117.98 L612.85,118.18 L614.35,118.37 L615.86,118.56 L617.36,118.74 L618.86,118.93 L620.37,119.11 L621.87,119.29 L623.37,119.47 L624.88,119.65 L626.38,119.83 L627.88,120.00 L629.39,120.17 L630.89,120.34 L632.39,120.51 L633.90,120.68 L635.40,120.85 L636.90,121.01 L638.41,121.17 L639.91,121.33 L641.41,121.49 L642.92,121.65 L644.42,121.80 L645.92,121.96 L647.43,122.11 L648.93,122.26 L650.43,122.41 L651.93,122.56 L653.44,122.70 L654.94,122.84 L656.44,122.99 L657.95,123.13 L659.45,123.26 L660.95,123.40 L662.46,123.54 L663.96,123.67 L665.46,123.80 L666.97,123.93 L668.47,124.06 L669.97,124.19 L671.48,124.31 L672.98,124.44 L674.48,124.56 L675.99,124.68 L677.49,124.80 L678.99,124.92 L680.50,125.03 L682.00,125.15" stroke="#008000" stroke-width="2.15"/>
<path d="M-4.8,0 L0,-5.1 L4.8,0 L0,5.1 Z" transform="translate(88.03,236.87) rotate(-65.7)" fill="none" stroke="#008000" stroke-width="1.25"/>
<path d="M-4.8,0 L0,-5.1 L4.8,0 L0,5.1 Z" transform="translate(95.46,220.72) rotate(-64.9)" fill="none" stroke="#008000" stroke-width="1.25"/>
<path d="M-4.8,0 L0,-5.1 L4.8,0 L0,5.1 Z" transform="translate(102.89,205.22) rotate(-63.9)" fill="none" stroke="#008000" stroke-width="1.25"/>
<path d="M-4.8,0 L0,-5.1 L4.8,0 L0,5.1 Z" transform="translate(110.32,190.40) rotate(-62.8)" fill="none" stroke="#008000" stroke-width="1.25"/>
<path d="M-4.8,0 L0,-5.1 L4.8,0 L0,5.1 Z" transform="translate(117.75,176.27) rotate(-61.6)" fill="none" stroke="#008000" stroke-width="1.25"/>
<path d="M-4.8,0 L0,-5.1 L4.8,0 L0,5.1 Z" transform="translate(125.18,162.87) rotate(-60.3)" fill="none" stroke="#008000" stroke-width="1.25"/>
<path d="M-4.8,0 L0,-5.1 L4.8,0 L0,5.1 Z" transform="translate(132.61,150.20) rotate(-58.8)" fill="none" stroke="#008000" stroke-width="1.25"/>
<path d="M-4.8,0 L0,-5.1 L4.8,0 L0,5.1 Z" transform="translate(140.04,138.29) rotate(-57.2)" fill="none" stroke="#008000" stroke-width="1.25"/>
<path d="M-4.8,0 L0,-5.1 L4.8,0 L0,5.1 Z" transform="translate(147.47,127.16) rotate(-55.3)" fill="none" stroke="#008000" stroke-width="1.25"/>
<path d="M-4.8,0 L0,-5.1 L4.8,0 L0,5.1 Z" transform="translate(154.90,116.83) rotate(-53.2)" fill="none" stroke="#008000" stroke-width="1.25"/>
<path d="M-4.8,0 L0,-5.1 L4.8,0 L0,5.1 Z" transform="translate(162.33,107.32) rotate(-50.8)" fill="none" stroke="#008000" stroke-width="1.25"/>
<path d="M-4.8,0 L0,-5.1 L4.8,0 L0,5.1 Z" transform="translate(169.76,98.63) rotate(-48.1)" fill="none" stroke="#008000" stroke-width="1.25"/>
<path d="M-4.8,0 L0,-5.1 L4.8,0 L0,5.1 Z" transform="translate(177.19,90.76) rotate(-45.2)" fill="none" stroke="#008000" stroke-width="1.25"/>
<path d="M-4.8,0 L0,-5.1 L4.8,0 L0,5.1 Z" transform="translate(184.62,83.67) rotate(-42.1)" fill="none" stroke="#008000" stroke-width="1.25"/>
<path d="M-4.8,0 L0,-5.1 L4.8,0 L0,5.1 Z" transform="translate(192.05,77.34) rotate(-38.7)" fill="none" stroke="#008000" stroke-width="1.25"/>
<path d="M-4.8,0 L0,-5.1 L4.8,0 L0,5.1 Z" transform="translate(199.48,71.74) rotate(-35.2)" fill="none" stroke="#008000" stroke-width="1.25"/>
<path d="M-4.8,0 L0,-5.1 L4.8,0 L0,5.1 Z" transform="translate(206.91,66.85) rotate(-31.5)" fill="none" stroke="#008000" stroke-width="1.25"/>
<path d="M-4.8,0 L0,-5.1 L4.8,0 L0,5.1 Z" transform="translate(214.34,62.64) rotate(-27.6)" fill="none" stroke="#008000" stroke-width="1.25"/>
<path d="M-4.8,0 L0,-5.1 L4.8,0 L0,5.1 Z" transform="translate(221.77,59.09) rotate(-23.6)" fill="none" stroke="#008000" stroke-width="1.25"/>
<path d="M-4.8,0 L0,-5.1 L4.8,0 L0,5.1 Z" transform="translate(229.20,56.16) rotate(-19.5)" fill="none" stroke="#008000" stroke-width="1.25"/>
<path d="M-4.8,0 L0,-5.1 L4.8,0 L0,5.1 Z" transform="translate(236.63,53.83) rotate(-15.3)" fill="none" stroke="#008000" stroke-width="1.25"/>
<path d="M-4.8,0 L0,-5.1 L4.8,0 L0,5.1 Z" transform="translate(244.06,52.07) rotate(-11.2)" fill="none" stroke="#008000" stroke-width="1.25"/>
<path d="M-4.8,0 L0,-5.1 L4.8,0 L0,5.1 Z" transform="translate(251.49,50.86) rotate(-7.3)" fill="none" stroke="#008000" stroke-width="1.25"/>
<path d="M-4.8,0 L0,-5.1 L4.8,0 L0,5.1 Z" transform="translate(258.92,50.14) rotate(-3.8)" fill="none" stroke="#008000" stroke-width="1.25"/>
<path d="M-4.8,0 L0,-5.1 L4.8,0 L0,5.1 Z" transform="translate(266.35,49.87) rotate(-0.6)" fill="none" stroke="#008000" stroke-width="1.25"/>
<path d="M-4.8,0 L0,-5.1 L4.8,0 L0,5.1 Z" transform="translate(273.78,49.97) rotate(2.2)" fill="none" stroke="#008000" stroke-width="1.25"/>
<path d="M-4.8,0 L0,-5.1 L4.8,0 L0,5.1 Z" transform="translate(281.21,50.41) rotate(4.5)" fill="none" stroke="#008000" stroke-width="1.25"/>
<path d="M-4.8,0 L0,-5.1 L4.8,0 L0,5.1 Z" transform="translate(288.64,51.13) rotate(6.5)" fill="none" stroke="#008000" stroke-width="1.25"/>
<path d="M-4.8,0 L0,-5.1 L4.8,0 L0,5.1 Z" transform="translate(296.07,52.08) rotate(8.0)" fill="none" stroke="#008000" stroke-width="1.25"/>
<path d="M-4.8,0 L0,-5.1 L4.8,0 L0,5.1 Z" transform="translate(303.50,53.20) rotate(9.1)" fill="none" stroke="#008000" stroke-width="1.25"/>
<path d="M-4.8,0 L0,-5.1 L4.8,0 L0,5.1 Z" transform="translate(310.93,54.43) rotate(9.8)" fill="none" stroke="#008000" stroke-width="1.25"/>
<path d="M-4.8,0 L0,-5.1 L4.8,0 L0,5.1 Z" transform="translate(318.36,55.74) rotate(10.3)" fill="none" stroke="#008000" stroke-width="1.25"/>
<path d="M-4.8,0 L0,-5.1 L4.8,0 L0,5.1 Z" transform="translate(325.79,57.12) rotate(10.7)" fill="none" stroke="#008000" stroke-width="1.25"/>
<path d="M-4.8,0 L0,-5.1 L4.8,0 L0,5.1 Z" transform="translate(333.22,58.56) rotate(11.2)" fill="none" stroke="#008000" stroke-width="1.25"/>
<path d="M-4.8,0 L0,-5.1 L4.8,0 L0,5.1 Z" transform="translate(340.65,60.05) rotate(11.6)" fill="none" stroke="#008000" stroke-width="1.25"/>
<path d="M-4.8,0 L0,-5.1 L4.8,0 L0,5.1 Z" transform="translate(348.08,61.60) rotate(12.0)" fill="none" stroke="#008000" stroke-width="1.25"/>
<path d="M-4.8,0 L0,-5.1 L4.8,0 L0,5.1 Z" transform="translate(355.51,63.20) rotate(12.3)" fill="none" stroke="#008000" stroke-width="1.25"/>
<path d="M-4.8,0 L0,-5.1 L4.8,0 L0,5.1 Z" transform="translate(362.94,64.84) rotate(12.6)" fill="none" stroke="#008000" stroke-width="1.25"/>
<path d="M-4.8,0 L0,-5.1 L4.8,0 L0,5.1 Z" transform="translate(370.37,66.53) rotate(12.9)" fill="none" stroke="#008000" stroke-width="1.25"/>
<path d="M-4.8,0 L0,-5.1 L4.8,0 L0,5.1 Z" transform="translate(377.80,68.25) rotate(13.2)" fill="none" stroke="#008000" stroke-width="1.25"/>
<path d="M-4.8,0 L0,-5.1 L4.8,0 L0,5.1 Z" transform="translate(385.23,70.01) rotate(13.4)" fill="none" stroke="#008000" stroke-width="1.25"/>
<path d="M-4.8,0 L0,-5.1 L4.8,0 L0,5.1 Z" transform="translate(392.66,71.80) rotate(13.7)" fill="none" stroke="#008000" stroke-width="1.25"/>
<path d="M-4.8,0 L0,-5.1 L4.8,0 L0,5.1 Z" transform="translate(400.09,73.62) rotate(13.9)" fill="none" stroke="#008000" stroke-width="1.25"/>
<path d="M-4.8,0 L0,-5.1 L4.8,0 L0,5.1 Z" transform="translate(407.52,75.47) rotate(14.0)" fill="none" stroke="#008000" stroke-width="1.25"/>
<path d="M-4.8,0 L0,-5.1 L4.8,0 L0,5.1 Z" transform="translate(414.95,77.33) rotate(14.1)" fill="none" stroke="#008000" stroke-width="1.25"/>
<path d="M-4.8,0 L0,-5.1 L4.8,0 L0,5.1 Z" transform="translate(422.38,79.21) rotate(14.2)" fill="none" stroke="#008000" stroke-width="1.25"/>
<path d="M-4.8,0 L0,-5.1 L4.8,0 L0,5.1 Z" transform="translate(429.81,81.09) rotate(14.3)" fill="none" stroke="#008000" stroke-width="1.25"/>
<path d="M-4.8,0 L0,-5.1 L4.8,0 L0,5.1 Z" transform="translate(437.24,82.98) rotate(14.3)" fill="none" stroke="#008000" stroke-width="1.25"/>
<path d="M-4.8,0 L0,-5.1 L4.8,0 L0,5.1 Z" transform="translate(444.67,84.87) rotate(14.2)" fill="none" stroke="#008000" stroke-width="1.25"/>
<path d="M-4.8,0 L0,-5.1 L4.8,0 L0,5.1 Z" transform="translate(452.10,86.75) rotate(14.2)" fill="none" stroke="#008000" stroke-width="1.25"/>
<path d="M-4.8,0 L0,-5.1 L4.8,0 L0,5.1 Z" transform="translate(459.53,88.61) rotate(14.0)" fill="none" stroke="#008000" stroke-width="1.25"/>
<path d="M-4.8,0 L0,-5.1 L4.8,0 L0,5.1 Z" transform="translate(466.96,90.46) rotate(13.9)" fill="none" stroke="#008000" stroke-width="1.25"/>
<path d="M-4.8,0 L0,-5.1 L4.8,0 L0,5.1 Z" transform="translate(474.39,92.29) rotate(13.7)" fill="none" stroke="#008000" stroke-width="1.25"/>
<path d="M-4.8,0 L0,-5.1 L4.8,0 L0,5.1 Z" transform="translate(481.82,94.09) rotate(13.5)" fill="none" stroke="#008000" stroke-width="1.25"/>
<path d="M-4.8,0 L0,-5.1 L4.8,0 L0,5.1 Z" transform="translate(489.25,95.85) rotate(13.2)" fill="none" stroke="#008000" stroke-width="1.25"/>
<path d="M-4.8,0 L0,-5.1 L4.8,0 L0,5.1 Z" transform="translate(496.68,97.58) rotate(12.9)" fill="none" stroke="#008000" stroke-width="1.25"/>
<path d="M-4.8,0 L0,-5.1 L4.8,0 L0,5.1 Z" transform="translate(504.11,99.26) rotate(12.6)" fill="none" stroke="#008000" stroke-width="1.25"/>
<path d="M-4.8,0 L0,-5.1 L4.8,0 L0,5.1 Z" transform="translate(511.54,100.89) rotate(12.2)" fill="none" stroke="#008000" stroke-width="1.25"/>
<path d="M-4.8,0 L0,-5.1 L4.8,0 L0,5.1 Z" transform="translate(518.97,102.48) rotate(11.8)" fill="none" stroke="#008000" stroke-width="1.25"/>
<path d="M-4.8,0 L0,-5.1 L4.8,0 L0,5.1 Z" transform="translate(526.40,104.01) rotate(11.4)" fill="none" stroke="#008000" stroke-width="1.25"/>
<path d="M-4.8,0 L0,-5.1 L4.8,0 L0,5.1 Z" transform="translate(533.83,105.48) rotate(11.1)" fill="none" stroke="#008000" stroke-width="1.25"/>
<path d="M-4.8,0 L0,-5.1 L4.8,0 L0,5.1 Z" transform="translate(541.26,106.91) rotate(10.7)" fill="none" stroke="#008000" stroke-width="1.25"/>
<path d="M-4.8,0 L0,-5.1 L4.8,0 L0,5.1 Z" transform="translate(548.69,108.29) rotate(10.3)" fill="none" stroke="#008000" stroke-width="1.25"/>
<path d="M-4.8,0 L0,-5.1 L4.8,0 L0,5.1 Z" transform="translate(556.12,109.61) rotate(9.9)" fill="none" stroke="#008000" stroke-width="1.25"/>
<path d="M-4.8,0 L0,-5.1 L4.8,0 L0,5.1 Z" transform="translate(563.55,110.89) rotate(9.6)" fill="none" stroke="#008000" stroke-width="1.25"/>
<path d="M-4.8,0 L0,-5.1 L4.8,0 L0,5.1 Z" transform="translate(570.98,112.12) rotate(9.2)" fill="none" stroke="#008000" stroke-width="1.25"/>
<path d="M-4.8,0 L0,-5.1 L4.8,0 L0,5.1 Z" transform="translate(578.41,113.30) rotate(8.9)" fill="none" stroke="#008000" stroke-width="1.25"/>
<path d="M-4.8,0 L0,-5.1 L4.8,0 L0,5.1 Z" transform="translate(585.84,114.44) rotate(8.5)" fill="none" stroke="#008000" stroke-width="1.25"/>
<path d="M-4.8,0 L0,-5.1 L4.8,0 L0,5.1 Z" transform="translate(593.27,115.53) rotate(8.2)" fill="none" stroke="#008000" stroke-width="1.25"/>
<path d="M-4.8,0 L0,-5.1 L4.8,0 L0,5.1 Z" transform="translate(600.70,116.57) rotate(7.8)" fill="none" stroke="#008000" stroke-width="1.25"/>
<path d="M-4.8,0 L0,-5.1 L4.8,0 L0,5.1 Z" transform="translate(608.13,117.57) rotate(7.5)" fill="none" stroke="#008000" stroke-width="1.25"/>
<path d="M-4.8,0 L0,-5.1 L4.8,0 L0,5.1 Z" transform="translate(615.56,118.52) rotate(7.1)" fill="none" stroke="#008000" stroke-width="1.25"/>
<path d="M-4.8,0 L0,-5.1 L4.8,0 L0,5.1 Z" transform="translate(622.99,119.43) rotate(6.8)" fill="none" stroke="#008000" stroke-width="1.25"/>
<path d="M-4.8,0 L0,-5.1 L4.8,0 L0,5.1 Z" transform="translate(630.42,120.29) rotate(6.5)" fill="none" stroke="#008000" stroke-width="1.25"/>
<path d="M-4.8,0 L0,-5.1 L4.8,0 L0,5.1 Z" transform="translate(637.85,121.11) rotate(6.2)" fill="none" stroke="#008000" stroke-width="1.25"/>
<path d="M-4.8,0 L0,-5.1 L4.8,0 L0,5.1 Z" transform="translate(645.28,121.89) rotate(5.8)" fill="none" stroke="#008000" stroke-width="1.25"/>
<path d="M-4.8,0 L0,-5.1 L4.8,0 L0,5.1 Z" transform="translate(652.71,122.63) rotate(5.5)" fill="none" stroke="#008000" stroke-width="1.25"/>
<path d="M-4.8,0 L0,-5.1 L4.8,0 L0,5.1 Z" transform="translate(660.14,123.33) rotate(5.2)" fill="none" stroke="#008000" stroke-width="1.25"/>
<path d="M-4.8,0 L0,-5.1 L4.8,0 L0,5.1 Z" transform="translate(667.57,123.98) rotate(4.9)" fill="none" stroke="#008000" stroke-width="1.25"/>
<path d="M-4.8,0 L0,-5.1 L4.8,0 L0,5.1 Z" transform="translate(675.00,124.60) rotate(4.6)" fill="none" stroke="#008000" stroke-width="1.25"/>
</g>
<g font-family="'Liberation Sans', Arial, Helvetica, sans-serif" fill="#000">
<text transform="translate(70.00,363.80) scale(1,1.0500)" font-size="28" text-anchor="end" stroke="#000" stroke-width="0.4">0.2</text>
<text transform="translate(69.60,323.10) scale(1,1.0500)" font-size="28" text-anchor="end" stroke="#000" stroke-width="0.4">0.3</text>
<text transform="translate(70.50,279.60) scale(1,1.0500)" font-size="28" text-anchor="end" stroke="#000" stroke-width="0.4">0.4</text>
<text transform="translate(70.50,239.50) scale(1,1.0500)" font-size="28" text-anchor="end" stroke="#000" stroke-width="0.4">0.5</text>
<text transform="translate(70.50,193.70) scale(1,1.0500)" font-size="28" text-anchor="end" stroke="#000" stroke-width="0.4">0.6</text>
<text transform="translate(70.50,150.30) scale(1,1.0500)" font-size="28" text-anchor="end" stroke="#000" stroke-width="0.4">0.7</text>
<text transform="translate(70.50,109.50) scale(1,1.0500)" font-size="28" text-anchor="end" stroke="#000" stroke-width="0.4">0.8</text>
<text transform="translate(70.50,63.50) scale(1,1.0500)" font-size="28" text-anchor="end" stroke="#000" stroke-width="0.4">0.9</text>
<text transform="translate(71.80,19.20) scale(1.22,1.0500)" font-size="24.08" text-anchor="end" stroke="#000" stroke-width="0.85" font-family="NanumGothic, 'Liberation Sans', sans-serif">1</text>
<text transform="translate(85.90,390.10) scale(1,1.0580)" font-size="25.5" text-anchor="middle" stroke="#000" stroke-width="0.4">0.2</text>
<text transform="translate(160.41,390.10) scale(1,1.0580)" font-size="25.5" text-anchor="middle" stroke="#000" stroke-width="0.4">0.3</text>
<text transform="translate(234.92,390.10) scale(1,1.0580)" font-size="25.5" text-anchor="middle" stroke="#000" stroke-width="0.4">0.4</text>
<text transform="translate(309.43,390.10) scale(1,1.0580)" font-size="25.5" text-anchor="middle" stroke="#000" stroke-width="0.4">0.5</text>
<text transform="translate(383.94,390.10) scale(1,1.0580)" font-size="25.5" text-anchor="middle" stroke="#000" stroke-width="0.4">0.6</text>
<text transform="translate(458.45,390.10) scale(1,1.0580)" font-size="25.5" text-anchor="middle" stroke="#000" stroke-width="0.4">0.7</text>
<text transform="translate(532.96,390.10) scale(1,1.0580)" font-size="25.5" text-anchor="middle" stroke="#000" stroke-width="0.4">0.8</text>
<text transform="translate(607.47,390.10) scale(1,1.0580)" font-size="25.5" text-anchor="middle" stroke="#000" stroke-width="0.4">0.9</text>
<text transform="translate(682.28,389.20) scale(1.22,1.0580)" font-size="21.93" text-anchor="middle" stroke="#000" stroke-width="0.85" font-family="NanumGothic, 'Liberation Sans', sans-serif">1</text>
<text transform="translate(377.00,425.50) scale(1,1.0800)" font-size="27.9" text-anchor="middle" stroke="#000" stroke-width="0.4">f, kHz</text>
<text transform="translate(540.00,254.50) scale(1,1.0450)" font-size="22.0" text-anchor="start" stroke="#000" stroke-width="0.35">HL2</text>
<text transform="translate(540.00,282.00) scale(1,1.0450)" font-size="22.0" text-anchor="start" stroke="#000" stroke-width="0.35">DP model <tspan font-family="NanumGothic, 'Liberation Sans', sans-serif" font-size="21" stroke-width="0.7" dx="0.8">1</tspan></text>
<text transform="translate(540.00,312.30) scale(1,1.0450)" font-size="22.0" text-anchor="start" stroke="#000" stroke-width="0.35">DP model 2</text>
</g>
<text transform="translate(14.6,190.0) rotate(-90) scale(1.15,1)" font-family="'Liberation Serif', 'DejaVu Serif', serif" font-size="31" text-anchor="middle" fill="#000" stroke="#000" stroke-width="0.3">α</text>
<path d="M476.9,248.4 H529.2" stroke="#0000ff" stroke-width="2"/>
<path d="M476.9,276.7 H529.2" stroke="#ff5a00" stroke-width="2"/>
<path d="M-0.5,0 L5.65,-3.8 L5.65,3.8 Z" transform="translate(489.80,276.70) rotate(0.0)" fill="none" stroke="#ff5a00" stroke-width="1.25"/>
<path d="M-0.5,0 L5.65,-3.8 L5.65,3.8 Z" transform="translate(502.90,276.70) rotate(0.0)" fill="none" stroke="#ff5a00" stroke-width="1.25"/>
<path d="M-0.5,0 L5.65,-3.8 L5.65,3.8 Z" transform="translate(516.00,276.70) rotate(0.0)" fill="none" stroke="#ff5a00" stroke-width="1.25"/>
<path d="M476.9,305.1 H529.2" stroke="#008000" stroke-width="2"/>
<path d="M-4.8,0 L0,-5.1 L4.8,0 L0,5.1 Z" transform="translate(489.80,305.10) rotate(0.0)" fill="none" stroke="#008000" stroke-width="1.25"/>
<path d="M-4.8,0 L0,-5.1 L4.8,0 L0,5.1 Z" transform="translate(502.90,305.10) rotate(0.0)" fill="none" stroke="#008000" stroke-width="1.25"/>
<path d="M-4.8,0 L0,-5.1 L4.8,0 L0,5.1 Z" transform="translate(516.00,305.10) rotate(0.0)" fill="none" stroke="#008000" stroke-width="1.25"/>
</svg>
</body></html>
